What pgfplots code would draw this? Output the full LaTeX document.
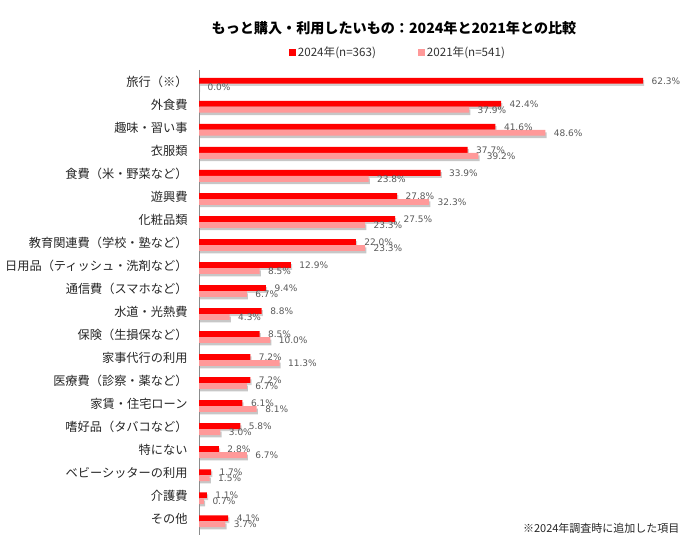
\documentclass[border=0pt]{standalone}
\usepackage{fontspec}
\setmainfont{Noto Sans CJK JP}
\newfontfamily\numfont{DejaVu Sans}
\usepackage{pgfplots}
\usepackage{pgfplotstable}
\pgfplotsset{compat=1.18}
\definecolor{cRed}{RGB}{255,0,0}
\definecolor{cPink}{RGB}{255,153,153}
\definecolor{lblgray}{RGB}{89,89,89}

\pgfplotstableread{
idx a b
0 62.3 0.0
1 42.4 37.9
2 41.6 48.6
3 37.7 39.2
4 33.9 23.8
5 27.8 32.3
6 27.5 23.3
7 22.0 23.3
8 12.9 8.5
9 9.4 6.7
10 8.8 4.3
11 8.5 10.0
12 7.2 11.3
13 7.2 6.7
14 6.1 8.1
15 5.8 3.0
16 2.8 6.7
17 1.7 1.5
18 1.1 0.7
19 4.1 3.7
}\data

\begin{document}
\begin{tikzpicture}[x=1pt,y=1pt]
\useasboundingbox (0,0) rectangle (700,548);
\begin{axis}[
 at={(199pt,13pt)}, anchor=south west,
 width=490pt, height=465pt, scale only axis,
 xmin=0, xmax=68.75, ymin=-0.6, ymax=19.6, y dir=reverse,
 hide x axis, axis y line*=left,
 y axis line style={black!45, line width=0.8pt},
 ytick={0,...,19},
 yticklabels={{旅行（※）},{外食費},{趣味・習い事},{衣服類},{食費（米・野菜など）},{遊興費},{化粧品類},{教育関連費（学校・塾など）},{日用品（ティッシュ・洗剤など）},{通信費（スマホなど）},{水道・光熱費},{保険（生損保など）},{家事代行の利用},{医療費（診察・薬など）},{家賃・住宅ローン},{嗜好品（タバコなど）},{特にない},{ベビーシッターの利用},{介護費},{その他}},
 major tick length=0pt,
 yticklabel style={font=\fontsize{12.2}{13}\selectfont, color=black!85, yshift=2pt, xshift=-8pt},
 xbar, bar width=5.8pt,
 clip=false,
 point meta=x,
 /pgf/number format/assume math mode=true,
 every node near coord/.append style={font=\numfont\fontsize{9}{10}\selectfont, color=lblgray, anchor=west, xshift=5pt},
 legend style={at={(0.406,1.037)}, anchor=center, draw=none, fill=none, legend columns=2,
   font=\fontsize{11.6}{12}\selectfont, text=black!80,
   /tikz/every even column/.append style={column sep=40pt}},
 legend image code/.code={\fill[#1] (0pt,-3.5pt) rectangle (7pt,3.5pt);},
]
% soft shadows
\addplot[forget plot, fill=black, fill opacity=0.18, draw=none, bar shift=0.9pt, xshift=1.2pt] table[x=a,y=idx]{\data};
\addplot[forget plot, fill=black, fill opacity=0.22, draw=none, bar shift=-5.4pt, xshift=1.2pt] table[x=b,y=idx]{\data};
% bars
\addplot[fill=cRed, draw=none, bar shift=3.0pt,
  nodes near coords={\pgfmathprintnumber[fixed,fixed zerofill,precision=1,assume math mode=true]{\pgfplotspointmeta}\%}] table[x=a,y=idx]{\data};
\addlegendentry{2024年(n=363)}
\addplot[fill=cPink, draw=none, bar shift=-3.0pt,
  nodes near coords={\pgfmathprintnumber[fixed,fixed zerofill,precision=1,assume math mode=true]{\pgfplotspointmeta}\%}] table[x=b,y=idx]{\data};
\addlegendentry{2021年(n=541)}
\end{axis}
\node[font=\bfseries\fontsize{14.1}{15}\selectfont] at (394,520) {もっと購入・利用したいもの：2024年と2021年との比較};
\node[anchor=east, font=\fontsize{11}{12}\selectfont, text=black!85] at (683,20) {※2024年調査時に追加した項目};
\end{tikzpicture}
\end{document}
